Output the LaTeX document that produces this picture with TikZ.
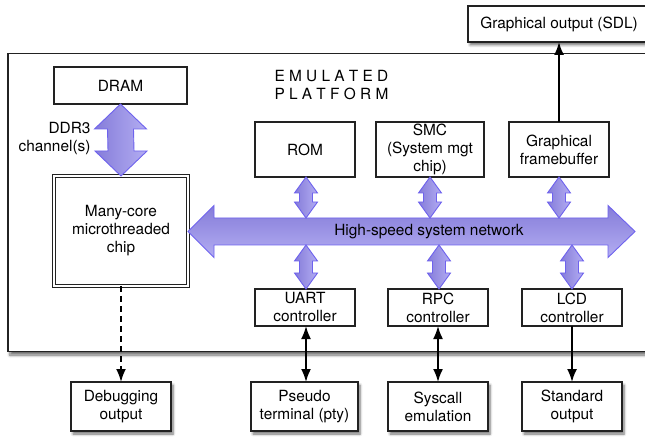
\documentclass[tikz,border=0pt]{standalone}
\usepackage{fontspec}
\setmainfont{TeX Gyre Heros}
\usetikzlibrary{calc,arrows.meta,shadows,shadows.blur}
\definecolor{fatedge}{HTML}{6E62EE}
\definecolor{fatdark}{HTML}{857CD9}
\definecolor{fatlight}{HTML}{B3ADF2}
\definecolor{boxline}{HTML}{222222}
\tikzset{
  every node/.style={font=\fontsize{15.4}{18}\selectfont},
  box/.style={draw=boxline,line width=1.2pt,fill=white,align=center,inner sep=0pt,outer sep=0pt},
  shbox/.style={box,blur shadow={shadow xshift=2pt,shadow yshift=-3pt,shadow blur radius=2.5pt,shadow blur steps=6,shadow opacity=55}},
  fatv/.style={draw=fatedge,line width=0.9pt,left color=fatdark,right color=fatlight},
  fath/.style={draw=fatedge,line width=0.9pt,top color=fatdark,bottom color=fatlight},
  link/.style={line width=1.8pt,black},
  tipend/.style={-{Latex[length=13pt,width=10pt]}},
  tipboth/.style={{Latex[length=13pt,width=10pt]}-{Latex[length=13pt,width=10pt]}},
}
\newcommand{\fatvarrow}[5]{% #1 top, #2 bottom, #3 head half width, #4 shaft half width, #5 head length
  \path[fatv] #1 -- ($#1+(#3,#5)$) -- ($#1+(#4,#5)$) -- ($#2+(#4,-#5)$) -- ($#2+(#3,-#5)$) -- #2
    -- ($#2+(-#3,-#5)$) -- ($#2+(-#4,-#5)$) -- ($#1+(-#4,#5)$) -- ($#1+(-#3,#5)$) -- cycle;}
\begin{document}
\begin{tikzpicture}[x=1pt,y=-1pt]
\useasboundingbox (0,0) rectangle (645,438);
% emulated platform frame
\path[draw=boxline,line width=1.2pt,fill=white,blur shadow={shadow xshift=2pt,shadow yshift=-3.5pt,shadow blur radius=3pt,shadow blur steps=6,shadow opacity=60}]
  (8,53.5) rectangle (670,351.5);
\node[anchor=base west] (emu1) at (271,81.5) {E M U L A T E D};
\node[anchor=base west] (emu2) at (271,99.5) {P L A T F O R M};
% boxes
\node[shbox,minimum width=182pt,minimum height=36pt] (sdl) at (559,24) {Graphical output (SDL)};
\node[box,minimum width=133pt,minimum height=37pt] (dram) at (120.5,85.5) {DRAM};
\node[box,double=white,line width=1pt,double distance=2.6pt,minimum width=134pt,minimum height=110pt] (chip) at (121,231) {Many-core\\microthreaded\\chip};
\node[box,minimum width=100pt,minimum height=55pt] (rom) at (305,149.5) {ROM};
\node[box,minimum width=108pt,minimum height=55pt] (smc) at (430,149.5) {SMC\\(System mgt\\chip)};
\node[box,minimum width=100pt,minimum height=55pt] (fb) at (559,149.5) {Graphical\\framebuffer};
\node[box,minimum width=100pt,minimum height=37pt] (uart) at (305,307.5) {UART\\controller};
\node[box,minimum width=100pt,minimum height=37pt] (rpc) at (438,307.5) {RPC\\controller};
\node[box,minimum width=100pt,minimum height=37pt] (lcd) at (572,307.5) {LCD\\controller};
\node[shbox,minimum width=100pt,minimum height=49pt] (dbg) at (121,406.5) {Debugging\\output};
\node[shbox,minimum width=107pt,minimum height=49pt] (pty) at (304.5,406.5) {Pseudo\\terminal (pty)};
\node[shbox,minimum width=100pt,minimum height=49pt] (sys) at (438,406.5) {Syscall\\emulation};
\node[shbox,minimum width=100pt,minimum height=49pt] (std) at (572,406.5) {Standard\\output};
% DDR3 channel
\fatvarrow{(dram.south)}{(chip.north)}{26}{13}{25}
\node[anchor=east,align=right] (ddr) at (94,139) {DDR3\\channel(s)};
% system network bus
\coordinate (busL) at (188,231.5);
\coordinate (busR) at (635,231.5);
\coordinate (bt) at (0,218);
\coordinate (bb) at (0,245);
\path[fath] (busL) -- ($(busL)+(26,-26)$) -- ($(busL)+(26,-13.5)$) -- ($(busR)+(-27,-13.5)$)
  -- ($(busR)+(-27,-26)$) -- (busR) -- ($(busR)+(-27,26)$) -- ($(busR)+(-27,13.5)$)
  -- ($(busL)+(26,13.5)$) -- ($(busL)+(26,26)$) -- cycle;
\node (bustext) at (429,231.5) {High-speed system network};
% bus taps
\coordinate (romb) at ($(rom.south |- bt)+(1,0)$);
\coordinate (smcb) at (smc.south |- bt);
\coordinate (fbb) at (fb.south |- bt);
\coordinate (uartb) at ($(uart.north |- bb)+(1,0)$);
\coordinate (rpcb) at ($(rpc.north |- bb)+(1,0)$);
\coordinate (lcdb) at (lcd.north |- bb);
\fatvarrow{($(rom.south)+(1,0)$)}{(romb)}{11.5}{6.5}{16}
\fatvarrow{(smc.south)}{(smcb)}{11.5}{6.5}{16}
\fatvarrow{(fb.south)}{(fbb)}{11.5}{6.5}{16}
\fatvarrow{(uartb)}{($(uart.north)+(1,0)$)}{11.5}{6.5}{16}
\fatvarrow{(rpcb)}{($(rpc.north)+(1,0)$)}{11.5}{6.5}{16}
\fatvarrow{(lcdb)}{(lcd.north)}{11.5}{6.5}{16}
% external links
\draw[link,tipend] (fb.north) -- (sdl.south -| fb.north);
\draw[link,tipend,dash pattern=on 6pt off 4pt] (chip.south) -- (dbg.north);
\draw[link,tipboth] ($(uart.south)+(1,0)$) -- ($(pty.north)+(1.5,0)$);
\draw[link,tipboth] (rpc.south) -- (sys.north);
\draw[link,tipend] (lcd.south) -- (std.north);
\end{tikzpicture}
\end{document}
